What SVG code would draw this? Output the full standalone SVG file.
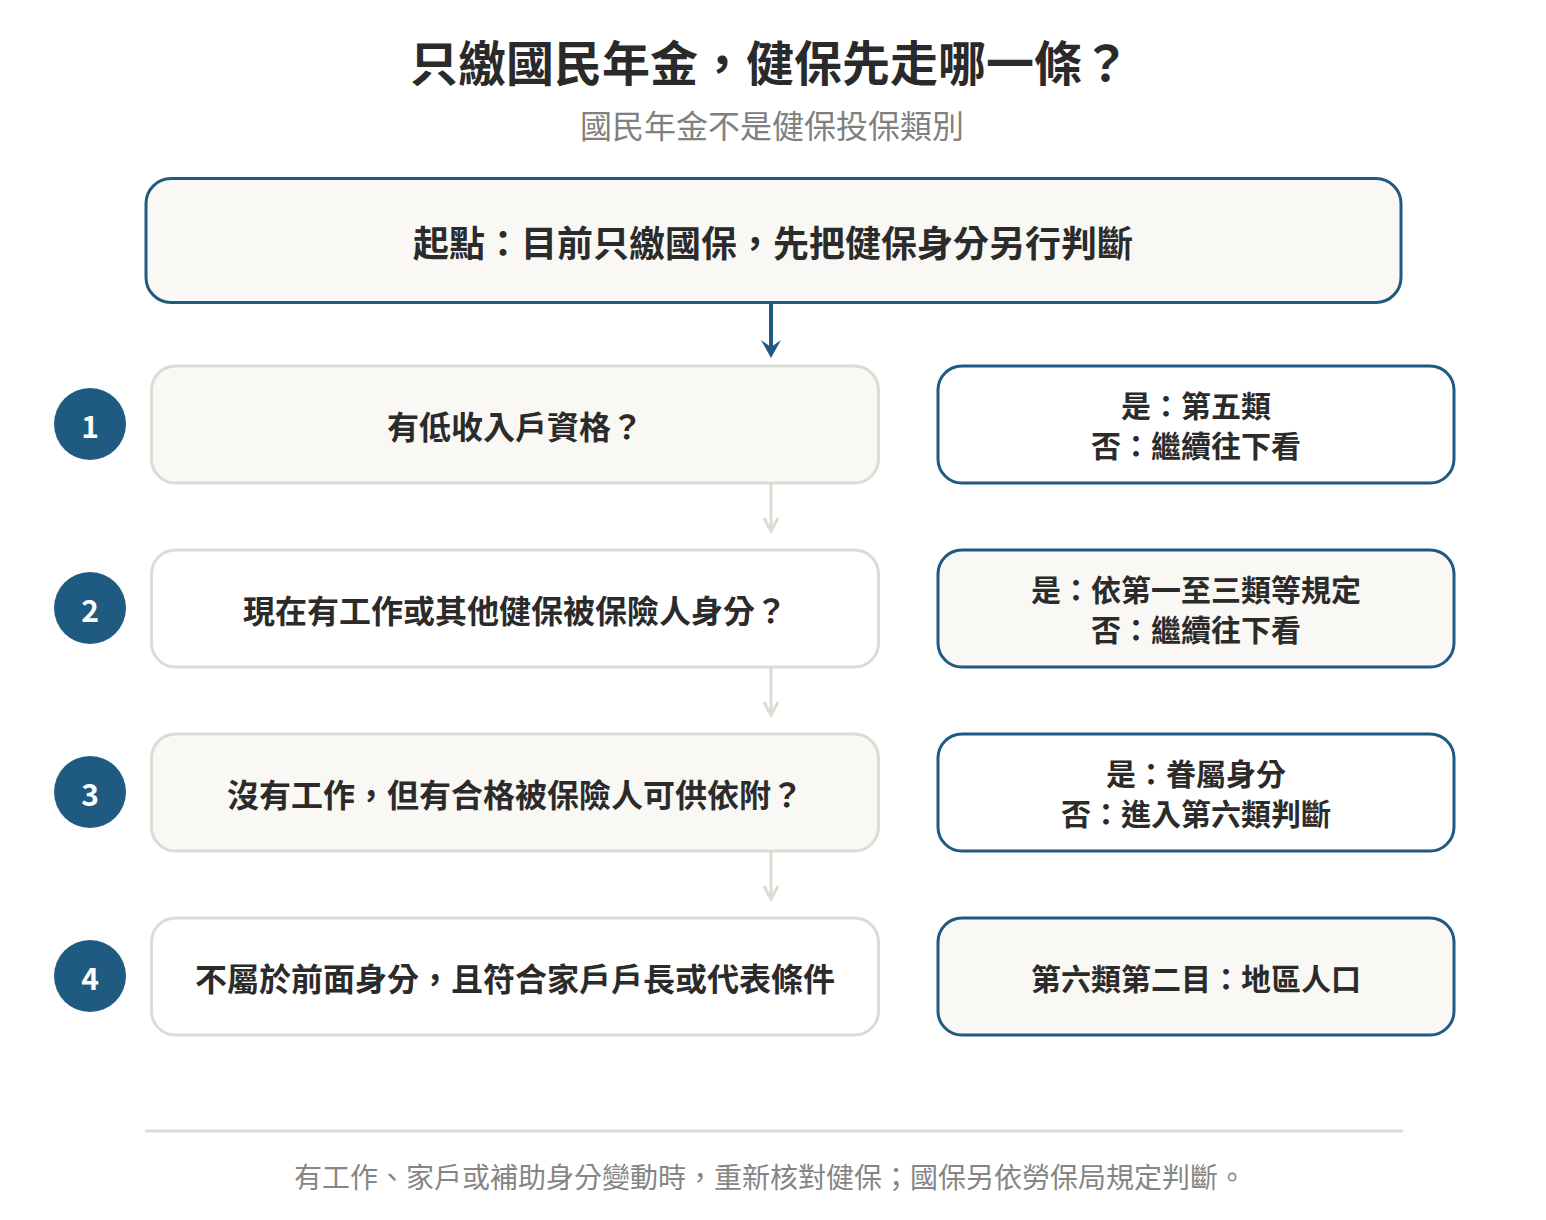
<svg xmlns="http://www.w3.org/2000/svg" width="1546" height="1220" viewBox="0 0 1546 1220">
<style>
text{font-family:"Noto Sans CJK TC","Noto Sans CJK SC",sans-serif;dominant-baseline:central;text-anchor:middle}
.t{font-size:48px;font-weight:700;fill:#2a2a2a}
.sub{font-size:32px;font-weight:400;fill:#808080}
.q{font-size:32px;font-weight:700;fill:#2b2b2b}
.a{font-size:30px;font-weight:700;fill:#2b2b2b}
.start{font-size:36px;font-weight:700;fill:#2b2b2b}
.foot{font-size:28px;font-weight:400;fill:#858585}
.num{font-size:30px;font-weight:700;fill:#ffffff}
.lb{stroke:#dddcd3;stroke-width:3}
.rb{stroke:#1f5a80;stroke-width:3}
.cream{fill:#f9f8f4}
.white{fill:#ffffff}
</style>
<rect width="1546" height="1220" fill="#ffffff"/>
<g id="title">
<text class="t" x="770" y="60">只繳國民年金，健保先走哪一條？</text>
<text class="sub" x="772" y="124">國民年金不是健保投保類別</text>
</g>
<g id="connectors">
<line x1="771" y1="304" x2="771" y2="350" stroke="#1f5a80" stroke-width="4"/>
<path d="M761,340 L771,358 L781,340 L771,347 Z" fill="#1f5a80"/>
<g stroke="#dddcd3" stroke-width="3" fill="none">
<line x1="771" y1="484" x2="771" y2="530"/>
<polyline points="764,518 771,531 778,518"/>
<line x1="771" y1="668" x2="771" y2="714"/>
<polyline points="764,702 771,715 778,702"/>
<line x1="771" y1="852" x2="771" y2="898"/>
<polyline points="764,886 771,899 778,886"/>
</g>
</g>
<g id="start">
<rect class="rb cream" x="146" y="178.5" width="1255" height="124" rx="25"/>
<text class="start" x="773" y="241">起點：目前只繳國保，先把健保身分另行判斷</text>
</g>
<g id="step1">
<circle cx="90" cy="424" r="36" fill="#1f5a80"/>
<text class="num" x="90" y="425">1</text>
<rect class="lb cream" x="151.5" y="366" width="727" height="117" rx="24"/>
<text class="q" x="515" y="425">有低收入戶資格？</text>
</g>
<g id="result1">
<rect class="rb white" x="938" y="366" width="516" height="117" rx="24"/>
<text class="a" x="1196" y="404">是：第五類</text>
<text class="a" x="1196" y="444">否：繼續往下看</text>
</g>
<g id="step2">
<circle cx="90" cy="608" r="36" fill="#1f5a80"/>
<text class="num" x="90" y="609">2</text>
<rect class="lb white" x="151.5" y="550" width="727" height="117" rx="24"/>
<text class="q" x="515" y="609">現在有工作或其他健保被保險人身分？</text>
</g>
<g id="result2">
<rect class="rb cream" x="938" y="550" width="516" height="117" rx="24"/>
<text class="a" x="1196" y="588">是：依第一至三類等規定</text>
<text class="a" x="1196" y="628">否：繼續往下看</text>
</g>
<g id="step3">
<circle cx="90" cy="792" r="36" fill="#1f5a80"/>
<text class="num" x="90" y="793">3</text>
<rect class="lb cream" x="151.5" y="734" width="727" height="117" rx="24"/>
<text class="q" x="515" y="793">沒有工作，但有合格被保險人可供依附？</text>
</g>
<g id="result3">
<rect class="rb white" x="938" y="734" width="516" height="117" rx="24"/>
<text class="a" x="1196" y="772">是：眷屬身分</text>
<text class="a" x="1196" y="812">否：進入第六類判斷</text>
</g>
<g id="step4">
<circle cx="90" cy="976" r="36" fill="#1f5a80"/>
<text class="num" x="90" y="977">4</text>
<rect class="lb white" x="151.5" y="918" width="727" height="117" rx="24"/>
<text class="q" x="515" y="977">不屬於前面身分，且符合家戶戶長或代表條件</text>
</g>
<g id="result4">
<rect class="rb cream" x="938" y="918" width="516" height="117" rx="24"/>
<text class="a" x="1196" y="977">第六類第二目：地區人口</text>
</g>
<g id="footer">
<line x1="145" y1="1131" x2="1403" y2="1131" stroke="#dddcd3" stroke-width="3"/>
<text class="foot" x="770" y="1176">有工作、家戶或補助身分變動時，重新核對健保；國保另依勞保局規定判斷。</text>
</g>
</svg>
